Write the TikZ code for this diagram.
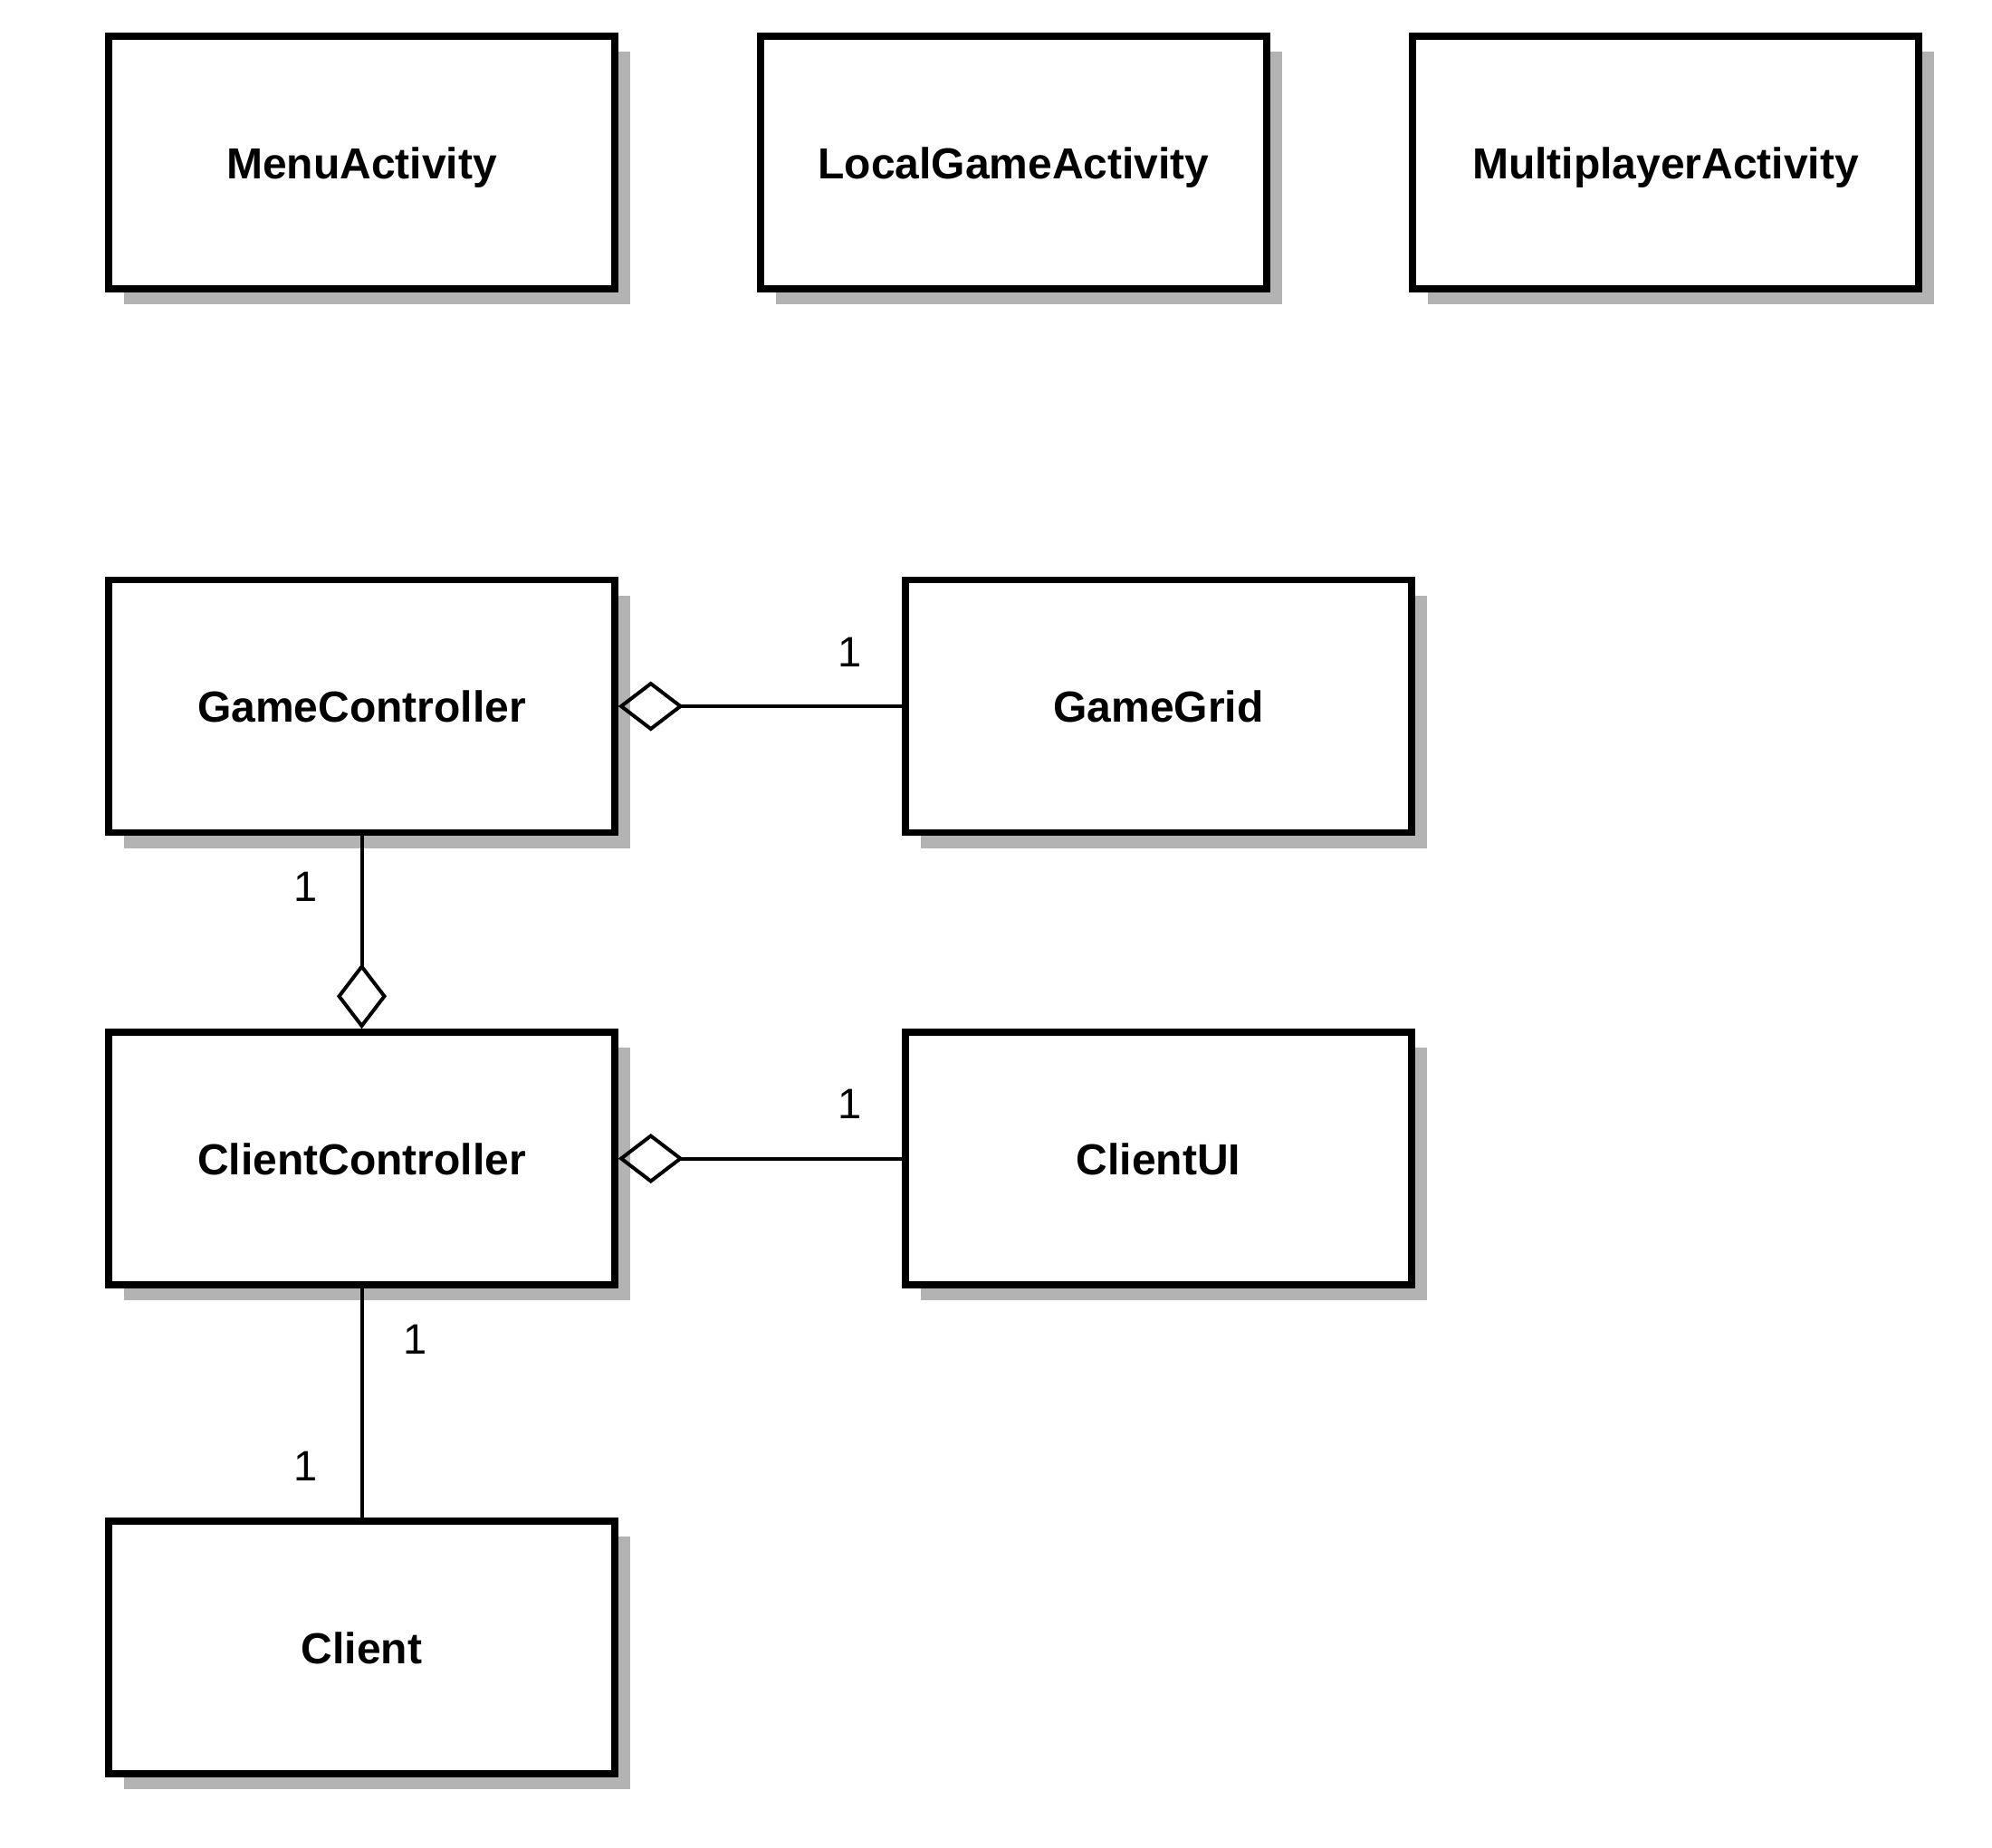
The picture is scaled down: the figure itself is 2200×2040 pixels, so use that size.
\documentclass[tikz,border=0pt]{standalone}
\usepackage{fontspec}
\setmainfont{Liberation Sans}
\usetikzlibrary{arrows.meta,shadows}
\definecolor{shadowgray}{HTML}{B3B3B3}
\begin{document}
\begin{tikzpicture}[x=1pt,y=-1pt,
  classbox/.style={draw=black, fill=white, line width=7.5pt, rectangle,
    minimum width=559pt, minimum height=279pt, inner sep=0pt,
    text height=35pt, text depth=0pt,
    font=\fontsize{48}{58}\selectfont\bfseries,
    drop shadow={shadow xshift=17pt, shadow yshift=-17pt, fill=shadowgray, opacity=1}},
  conn/.style={draw=black, line width=4pt},
  agg/.style={conn, {Diamond[open, length=72pt, width=55pt]}-},
  mult/.style={font=\fontsize{47}{56}\selectfont, inner sep=0pt}]
\useasboundingbox[fill=white] (0,0) rectangle (2200,2040);
\node[classbox] (menu) at (399.5,179.5) {MenuActivity};
\node[classbox] (local) at (1119.5,179.5) {LocalGameActivity};
\node[classbox] (multi) at (1839.5,179.5) {MultiplayerActivity};
\node[classbox] (gc) at (399.5,780) {GameController};
\node[classbox] (gg) at (1279.5,780) {GameGrid};
\node[classbox] (cc) at (399.5,1279.5) {ClientController};
\node[classbox] (cui) at (1279.5,1279.5) {ClientUI};
\node[classbox] (cl) at (399.5,1819.5) {Client};
\draw[agg] (gc.east) -- (gg.west);
\draw[agg] (cc.north) -- (gc.south);
\draw[agg] (cc.east) -- (cui.west);
\draw[conn] (cc.south) -- (cl.north);
\node[mult] (m1) at (939,720) {1};
\node[mult] (m2) at (338,979) {1};
\node[mult] (m3) at (939,1219) {1};
\node[mult] (m4) at (459,1479) {1};
\node[mult] (m5) at (338,1619) {1};
\end{tikzpicture}
\end{document}
